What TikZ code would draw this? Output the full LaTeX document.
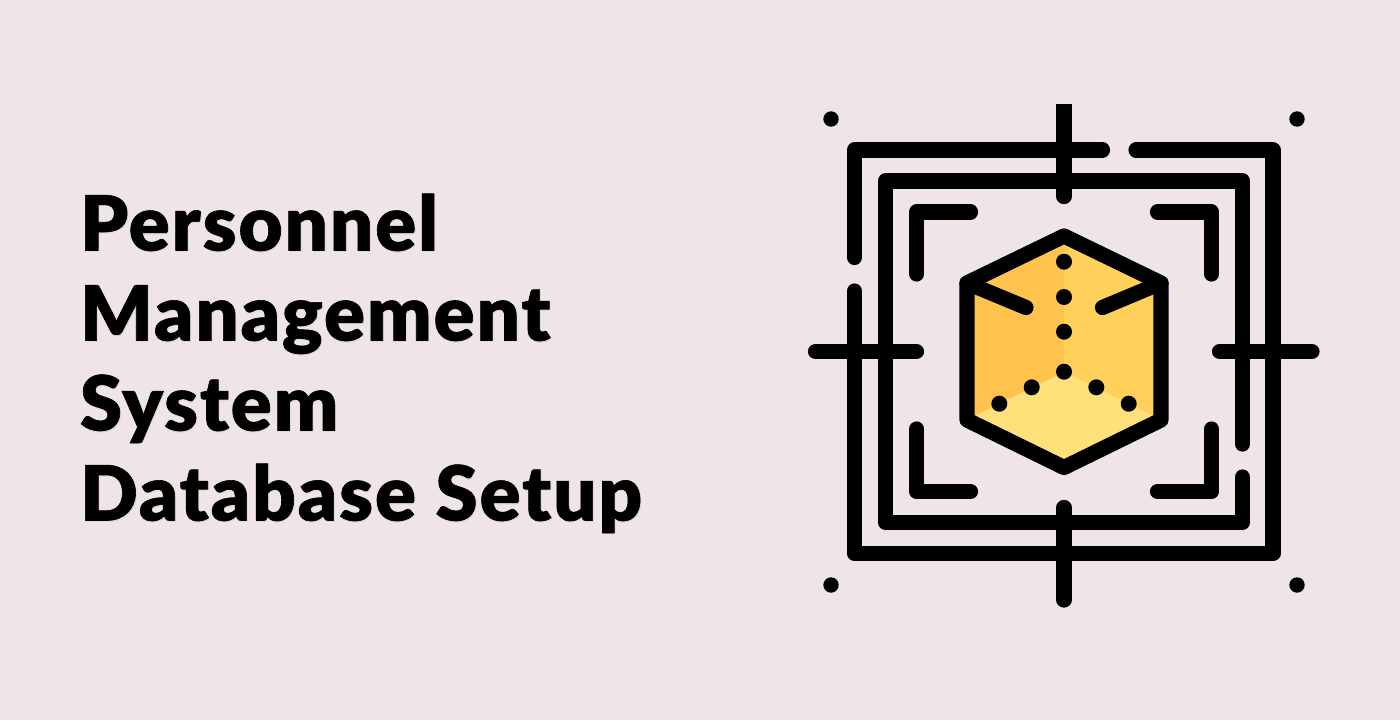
\documentclass[tikz,border=0pt]{standalone}
\usepackage{fontspec}
\setmainfont{Lato}[UprightFont=* Black,BoldFont=* Black]
\newfontfamily\titlefont{Lato Black}[FakeBold=0.8,LetterSpace=2.6]
\definecolor{bgc}{HTML}{EFE4E8}
\definecolor{faceL}{HTML}{FFC34E}
\definecolor{faceR}{HTML}{FFD15B}
\definecolor{faceB}{HTML}{FFE07A}
\definecolor{haloc}{HTML}{DFD6D9}
\tikzset{
  x=1bp,y=-1bp,
  ink/.style={draw=black,line width=15.2bp,line cap=round,line join=round},
  dotk/.style={fill=black},
  titletext/.style={anchor=base west,inner sep=0pt,font=\titlefont\fontsize{76bp}{90bp}\selectfont},
  halotext/.style={titletext,text=haloc}
}
\begin{document}
\begin{tikzpicture}
\fill[bgc] (0,0) rectangle (1400,720);
\useasboundingbox (0,0) rectangle (1400,720);
% text
\begin{scope}[line join=round]
\node[halotext] (s1) at (80.6,251.6) {Personnel};
\node[halotext] (s2) at (80.6,341.6) {Management};
\node[halotext] (s3) at (80.6,431.6) {System};
\node[halotext] (s4) at (80.6,521.6) {Database Setup};
\node[titletext] (t1) at (79.8,250.5) {Personnel};
\node[titletext] (t2) at (79.8,340.5) {Management};
\node[titletext] (t3) at (79.8,430.5) {System};
\node[titletext] (t4) at (79.8,520.5) {Database Setup};
\end{scope}
% hexagon faces
\fill[faceL] (1064,236) -- (967,283) -- (967,420) -- (1064,372) -- cycle;
\fill[faceR] (1064,236) -- (1161,283) -- (1161,420) -- (1064,372) -- cycle;
\fill[faceB] (1064,372) -- (967,420) -- (1064,467.5) -- (1161,420) -- cycle;
% frames
\draw[ink] (1102.5,150) -- (854.5,150) -- (854.5,257.5);
\draw[ink] (854.5,291) -- (854.5,553.5) -- (1273,553.5) -- (1273,150) -- (1136,150);
\draw[ink] (1242.5,444) -- (1242.5,181) -- (885.5,181) -- (885.5,522.5) -- (1242.5,522.5) -- (1242.5,477);
% crosses
\draw[ink] (1064,196.5) -- (1064,112);
\fill[black] (1056.4,104) rectangle (1071.6,113);
\draw[ink] (1064,507.5) -- (1064,600);
\draw[ink] (815.5,351.5) -- (916.5,351.5);
\draw[ink] (1219.5,351.5) -- (1312,351.5);
% brackets
\draw[ink] (970.5,212) -- (916.7,212) -- (916.7,274);
\draw[ink] (1157.5,212) -- (1211.5,212) -- (1211.5,274);
\draw[ink] (970.5,491.5) -- (916.7,491.5) -- (916.7,429);
\draw[ink] (1157.5,491.5) -- (1211.5,491.5) -- (1211.5,429);
% hexagon
\draw[ink] (1064,236) -- (1161,283) -- (1161,420) -- (1064,467.5) -- (967,420) -- (967,283) -- cycle;
\draw[ink] (967,283) -- (1026,307.5);
\draw[ink] (1161,283) -- (1102.5,307.5);
% dots
\foreach \px/\py in {1064/261.7,1064/297,1064/331.7,1064/371.7,1031.7/387.3,999.3/403.7,1096.3/387.3,1128.7/403.7}
  \fill[dotk] (\px,\py) circle[radius=8bp];
\foreach \px/\py in {831/119,1297/119,831/585,1297/585}
  \fill[dotk] (\px,\py) circle[radius=7.7bp];
\end{tikzpicture}
\end{document}
